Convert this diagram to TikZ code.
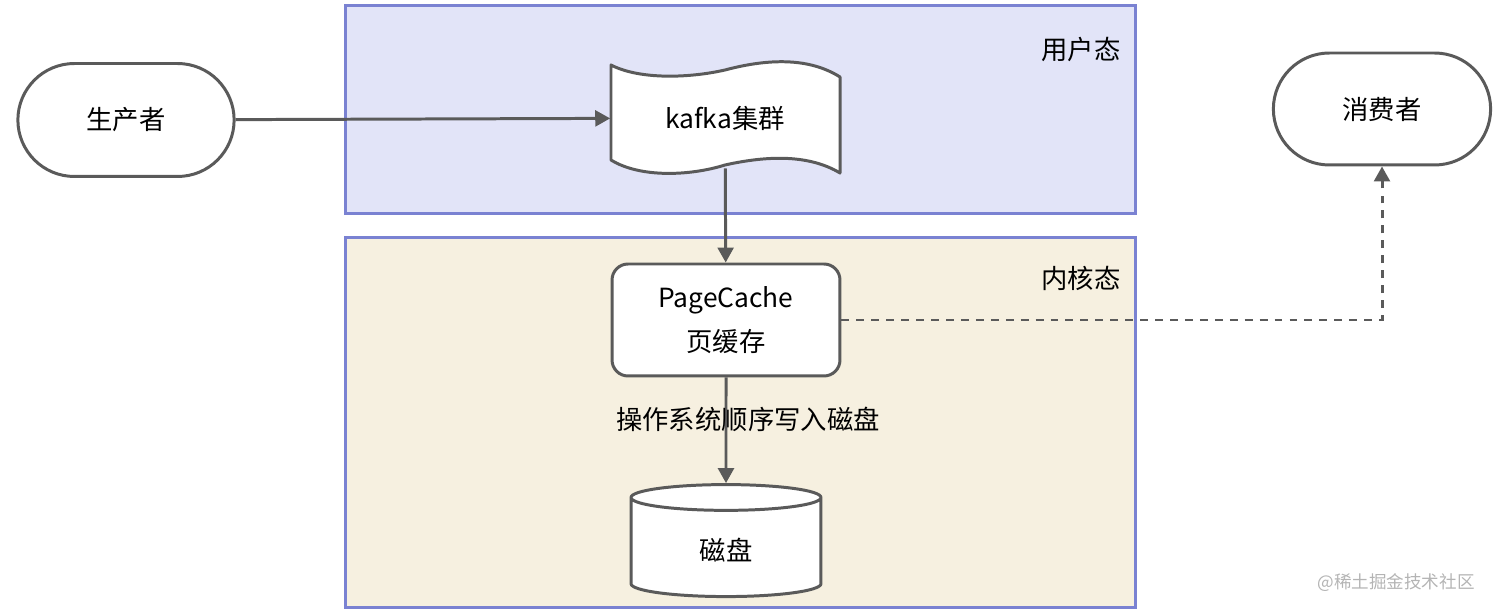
\documentclass[tikz,border=0pt]{standalone}
\usepackage{fontspec}
\setmainfont{Noto Sans CJK SC}
\usepackage{tikz}
\usetikzlibrary{shapes.geometric, shapes.misc, arrows.meta, positioning}
\definecolor{linegray}{HTML}{5A5A5A}
\definecolor{regionedge}{HTML}{7A82D2}
\definecolor{userfill}{HTML}{E2E4F8}
\definecolor{kernelfill}{HTML}{F6F0E0}
\definecolor{markgray}{HTML}{B4B4B4}

\begin{document}
\begin{tikzpicture}[
    x=0.02cm, y=-0.02cm,
    every node/.style={font=\fontsize{15}{25}\selectfont},
    region/.style={rectangle, draw=regionedge, fill=#1, line width=1.7pt, minimum width=15.82cm},
    terminal/.style={rounded rectangle, draw=linegray, fill=white, line width=1.7pt,
                     minimum width=4.56cm, minimum height=2.26cm},
    tapeline/.style={draw=linegray, fill=white, line width=1.7pt, line join=round},
    tapebox/.style={rectangle, minimum width=4.58cm, minimum height=2.0cm},
    cachebox/.style={rectangle, rounded corners=0.32cm, draw=linegray, fill=white,
                     line width=1.7pt, minimum width=4.56cm, minimum height=2.24cm, align=center},
    diskbox/.style={cylinder, shape border rotate=90, aspect=0.4, draw=linegray, fill=white,
                    line width=1.7pt, minimum width=3.8cm, minimum height=2.24cm},
    flow/.style={-{Triangle[length=8.5pt, width=9pt]}, draw=linegray, line width=1.7pt},
    dashflow/.style={flow, dash pattern=on 4.5pt off 4pt}
]
\useasboundingbox (0,0) rectangle (1512,614);

% User space / kernel space
\node[region=userfill, minimum height=4.18cm] (user) at (740.5,109.5) {};
\node[region=kernelfill, minimum height=7.42cm] (kernel) at (740.5,422.5) {};
\node at (1081,50) (userlbl) {用户态};
\node at (1081,278) (kernellbl) {内核态};

% Producer / consumer
\node[terminal] at (126,120) (producer) {生产者};
\node[terminal, minimum width=4.58cm, minimum height=2.24cm] at (1382,109) (consumer) {消费者};

% Kafka cluster (wavy tape outline)
\draw[tapeline] (611,65) .. controls (640,80) and (690,78) .. (725,70)
    .. controls (770,58) and (810,58) .. (840,77) -- (840,173)
    .. controls (810,155) and (770,155) .. (725,165)
    .. controls (690,176) and (640,178) .. (611,160) -- cycle;
\node[tapebox] at (725,118) (kafka) {kafka集群};

% Page cache, disk
\node[cachebox] at (726,320) (cache) {PageCache\\页缓存};
\node[diskbox] at (726,550) (disk) {磁盘};

% Flows
\draw[flow] (producer) -- (kafka);
\draw[flow] (kafka) -- (cache);
\draw[flow] (cache) -- node[pos=0.4, xshift=0.44cm] (writelbl) {操作系统顺序写入磁盘} (disk);
\draw[dashflow] (cache.east) -| (consumer.south);

% Watermark
\node[text=markgray, font=\fontsize{10}{12}\selectfont] at (1396,583) (mark) {@稀土掘金技术社区};

\end{tikzpicture}
\end{document}
